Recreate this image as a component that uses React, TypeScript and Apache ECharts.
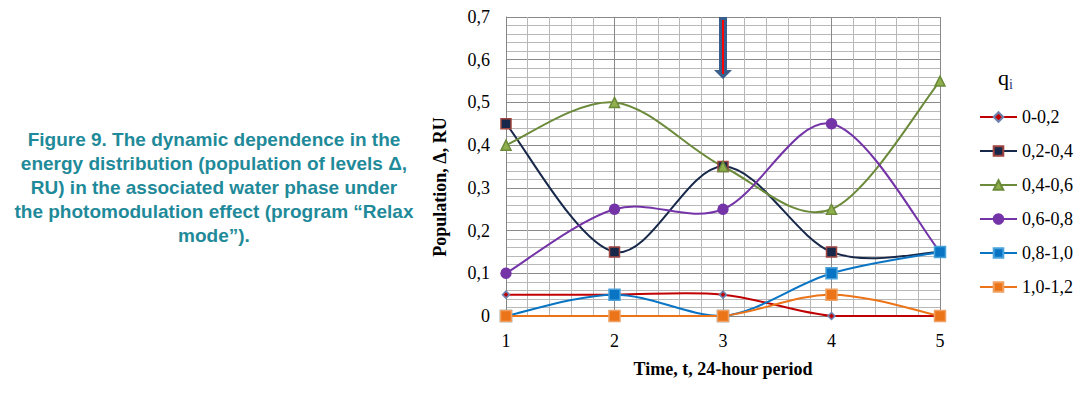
import React, { useEffect, useRef } from "react";
import * as echarts from "echarts";

const xValues = [1, 2, 3, 4, 5];
const seriesNames = ["0-0,2", "0,2-0,4", "0,4-0,6", "0,6-0,8", "0,8-1,0", "1,0-1,2"];
const s1 = [0.05, 0.05, 0.05, 0, 0];
const s2 = [0.45, 0.15, 0.35, 0.15, 0.15];
const s3 = [0.4, 0.5, 0.35, 0.25, 0.55];
const s4 = [0.1, 0.25, 0.25, 0.45, 0.15];
const s5 = [0, 0.05, 0, 0.1, 0.15];
const s6 = [0, 0, 0, 0.05, 0];
const yMin = 0;
const yMax = 0.7;
const arrowX = 3;
const arrowTop = 0.7;
const arrowTip = 0.555;

const captionLines = [
  "Figure 9. The dynamic dependence in the",
  "energy distribution (population of levels \u0394,",
  "RU) in the associated water phase under",
  "the photomodulation effect (program \u201cRelax",
  "mode\u201d).",
];

const SERIF = "Liberation Serif";

export default function App() {
  const ref = useRef<HTMLDivElement>(null);
  useEffect(() => {
    if (!ref.current) return;
    const chart = echarts.init(ref.current, null, { renderer: "svg" });
    const mk = (vals: number[]) => vals.map((v, i) => [xValues[i], v]);
    const styles = [
      { line: "#c00000", fill: "#c00000", border: "#6f83b0", symbol: "diamond", size: 7 },
      { line: "#17284a", fill: "#17284a", border: "#a0443f", symbol: "rect", size: 10 },
      { line: "#6b8a3a", fill: "#8fb04c", border: "#6b8a3a", symbol: "triangle", size: 10 },
      { line: "#7434a8", fill: "#7434a8", border: "#7434a8", symbol: "circle", size: 10 },
      { line: "#0a74c4", fill: "#0a74c4", border: "#4aa2dc", symbol: "rect", size: 11 },
      { line: "#ec7418", fill: "#ec7418", border: "#f0a060", symbol: "rect", size: 11 },
    ];
    const datasets = [s1, s2, s3, s4, s5, s6];

    // Smooth curves (Catmull-Rom style, like the spreadsheet's smoothed lines)
    const curveSeries = datasets.map((d, si) => {
      const pts = mk(d);
      return {
        type: "custom",
        silent: true,
        z: 2 + si,
        data: pts,
        encode: { x: 0, y: 1 },
        renderItem: (params: any, api: any) => {
          const i = params.dataIndex;
          if (i >= pts.length - 1) return null;
          const p = pts.map((q) => api.coord(q));
          const yb = api.coord([xValues[0], yMin])[1];
          const yt = api.coord([xValues[0], yMax])[1];
          const cl = (v: number) => Math.min(yb, Math.max(yt, v));
          const p0 = p[Math.max(i - 1, 0)];
          const p1 = p[i];
          const p2 = p[i + 1];
          const p3 = p[Math.min(i + 2, p.length - 1)];
          return {
            type: "bezierCurve",
            shape: {
              x1: p1[0],
              y1: p1[1],
              x2: p2[0],
              y2: p2[1],
              cpx1: p1[0] + (p2[0] - p0[0]) / 6,
              cpy1: cl(p1[1] + (p2[1] - p0[1]) / 6),
              cpx2: p2[0] - (p3[0] - p1[0]) / 6,
              cpy2: cl(p2[1] - (p3[1] - p1[1]) / 6),
            },
            style: { stroke: styles[si].line, lineWidth: 2, fill: "none" },
          };
        },
      };
    });

    const markerSeries = datasets.map((d, i) => ({
      name: seriesNames[i],
      type: "line",
      data: mk(d),
      symbol: styles[i].symbol,
      symbolSize: styles[i].size,
      lineStyle: { color: styles[i].line, width: 2, opacity: 0 },
      itemStyle: { color: styles[i].fill, borderColor: styles[i].border, borderWidth: 1.5 },
      z: 10 + i,
    }));

    chart.setOption({
      animation: false,
      grid: { left: 506, right: 146, top: 17, bottom: 77, containLabel: false },
      xAxis: {
        type: "value",
        min: 1,
        max: 5,
        interval: 1,
        name: "Time, t, 24-hour period",
        nameLocation: "middle",
        nameGap: 44,
        nameTextStyle: { fontFamily: SERIF, fontSize: 18, fontWeight: "bold", color: "#000" },
        axisLine: { show: true, lineStyle: { color: "#868686", width: 1 } },
        axisTick: { show: false },
        axisLabel: { fontFamily: SERIF, fontSize: 18, color: "#000", margin: 16, formatter: (v: number) => String(v) },
        splitLine: { show: true, lineStyle: { color: "#8a8a8a", width: 1 } },
        minorTick: { show: false, splitNumber: 5 },
        minorSplitLine: { show: true, lineStyle: { color: "#b8b8b8", width: 1 } },
      },
      yAxis: {
        type: "value",
        min: yMin,
        max: yMax,
        interval: 0.1,
        axisLine: { show: true, lineStyle: { color: "#868686", width: 1 } },
        axisTick: { show: false },
        axisLabel: {
          fontFamily: SERIF,
          fontSize: 18,
          color: "#000",
          margin: 16,
          formatter: (v: number) => (v === 0 ? "0" : v.toFixed(1).replace(".", ",")),
        },
        splitLine: { show: true, lineStyle: { color: "#8a8a8a", width: 1 } },
        minorTick: { show: false, splitNumber: 5 },
        minorSplitLine: { show: true, lineStyle: { color: "#b8b8b8", width: 1 } },
      },
      legend: {
        orient: "vertical",
        left: 974,
        top: 103,
        itemWidth: 37,
        itemHeight: 12,
        itemGap: 16,
        textStyle: { fontFamily: SERIF, fontSize: 18, color: "#000" },
        data: seriesNames.map((n, i) => ({
          name: n,
          lineStyle: { color: styles[i].line, width: 2, opacity: 1 },
        })),
      },
      series: [...curveSeries, ...markerSeries],
    });
    const top = chart.convertToPixel({ xAxisIndex: 0, yAxisIndex: 0 }, [arrowX, arrowTop]);
    const tip = chart.convertToPixel({ xAxisIndex: 0, yAxisIndex: 0 }, [arrowX, arrowTip]);
    const cx = top[0];
    const headH = 9;
    chart.setOption({
      graphic: [
        {
          type: "text",
          x: 214,
          y: 127,
          style: {
            text: captionLines.join("\n"),
            align: "center",
            fill: "#1f8a99",
            font: "bold 19px 'Liberation Sans', Arial, sans-serif",
            lineHeight: 24,
          },
        },
        {
          type: "text",
          x: 440,
          y: 187,
          rotation: Math.PI / 2,
          style: {
            text: "Population, \u0394, RU",
            align: "center",
            verticalAlign: "middle",
            fill: "#000",
            font: "bold 18px 'Liberation Serif', serif",
          },
        },
        {
          type: "text",
          x: 998,
          y: 66,
          style: {
            text: "{q|q}{i|i}",
            rich: {
              q: { fontFamily: SERIF, fontSize: 22, fill: "#000", verticalAlign: "bottom" },
              i: { fontFamily: SERIF, fontSize: 14, fill: "#1f3a78", verticalAlign: "bottom", padding: [0, 0, -3, 0] },
            },
          },
        },
        {
          type: "polygon",
          z: 100,
          shape: {
            points: [
              [cx - 4, top[1]],
              [cx + 4, top[1]],
              [cx + 4, tip[1] - headH],
              [cx + 9, tip[1] - headH],
              [cx, tip[1]],
              [cx - 9, tip[1] - headH],
              [cx - 4, tip[1] - headH],
            ],
          },
          style: { fill: "#3a5e8c" },
        },
        {
          type: "line",
          z: 101,
          shape: { x1: cx, y1: top[1] + 3, x2: cx, y2: tip[1] - headH + 4 },
          style: { stroke: "#ff0000", lineWidth: 2 },
        },
      ],
    });
    return () => chart.dispose();
  }, []);
  return (
    <div
      ref={ref}
      style={{ position: "absolute", left: 0, top: 0, width: 1086, height: 393, background: "#fff" }}
    />
  );
}
